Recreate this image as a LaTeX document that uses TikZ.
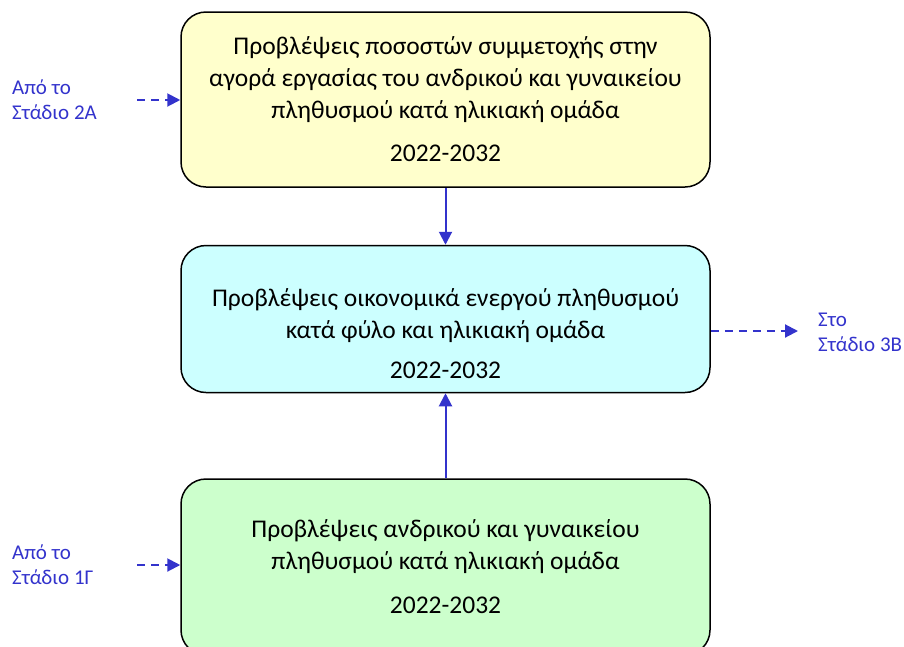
\documentclass[tikz,border=0pt]{standalone}
\usepackage{fontspec}
\setmainfont{Carlito}
\usepackage{xcolor}
\usepackage{tikz}
\usetikzlibrary{arrows.meta,positioning}
\definecolor{flowblue}{HTML}{3333CC}
\definecolor{paleyellow}{HTML}{FFFFCC}
\definecolor{palecyan}{HTML}{CCFFFF}
\definecolor{palegreen}{HTML}{CCFFCC}
\tikzset{
  stage/.style ={rounded corners=25pt,draw=black,line width=1.5pt,
                 minimum width=529pt,align=center,inner sep=0pt,
                 font=\fontsize{25.5}{32}\selectfont},
  note/.style  ={align=left,text=flowblue,inner sep=0pt,
                 font=\fontsize{21}{25}\selectfont},
  flow/.style  ={-{Triangle[length=13pt,width=13pt]},line width=2pt,draw=flowblue},
  dflow/.style ={flow,dash pattern=on 8pt off 6pt}
}

\begin{document}
\begin{tikzpicture}[x=1pt,y=-1pt]
    \useasboundingbox (0,0) rectangle (904,646);
    \clip (0,0) rectangle (904,646);
    \node[stage,fill=paleyellow,minimum height=175pt] (rates) at (445.5,99.5)
      {Προβλέψεις ποσοστών συμμετοχής στην\\αγορά εργασίας του ανδρικού και γυναικείου\\
       πληθυσμού κατά ηλικιακή ομάδα\\[11pt]2022-2032};
    \node[stage,fill=palecyan,minimum height=147pt,below=57pt of rates] (active)
      {\rule{0pt}{48pt}Προβλέψεις οικονομικά ενεργού πληθυσμού\\κατά φύλο και ηλικιακή ομάδα\\[8pt]2022-2032};
    \node[stage,fill=palegreen,minimum height=176pt,below=85pt of active] (popul)
      {Προβλέψεις ανδρικού και γυναικείου\\πληθυσμού κατά ηλικιακή ομάδα\\[12pt]2022-2032};
    % inputs and output
    \node[note,anchor=west] (from2a) at (12,100) {Από το\\Στάδιο 2Α};
    \node[note,anchor=west] (from1g) at (12,565) {Από το\\Στάδιο 1Γ};
    \node[note,anchor=west] (to3b) at (818,332) {Στο\\Στάδιο 3Β};
    \coordinate (in2a) at (137,100);
    \coordinate (in1g) at (137,565);
    \coordinate (out3b) at (798,331);
    \draw[flow] (rates) -- (active);
    \draw[flow] (popul) -- (active);
    \draw[dflow] (in2a) -- (in2a -| rates.west);
    \draw[dflow] (in1g) -- (in1g -| popul.west);
    \draw[dflow] (out3b -| active.east) -- (out3b);
  \end{tikzpicture}
\end{document}
